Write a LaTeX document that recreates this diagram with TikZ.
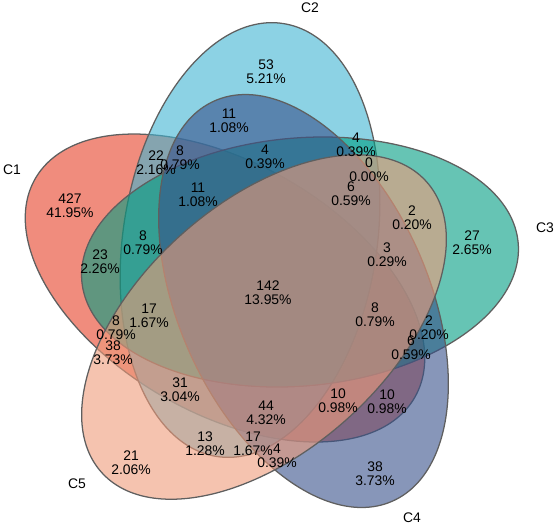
\documentclass[tikz,border=0pt]{standalone}
\usepackage{fontspec}
\setmainfont{Liberation Sans}
\usepackage{xcolor}
\usepackage{tikz}
\usetikzlibrary{positioning}

\definecolor{mauC1}{RGB}{230,63,38}
\definecolor{mauC2}{RGB}{63,180,210}
\definecolor{mauC3}{RGB}{0,157,130}
\definecolor{mauC4}{RGB}{55,80,138}
\definecolor{mauC5}{RGB}{238,155,122}
\definecolor{vien}{RGB}{95,95,95}

\begin{document}
\begin{tikzpicture}[x=0.25mm, y=-0.25mm,
    tap/.style={draw=vien, line width=0.9pt, fill opacity=0.6},
    so/.style={align=center, inner sep=0pt, font=\fontsize{9.9}{10}\selectfont},
    ten/.style={inner sep=0pt, font=\fontsize{9.9}{10}\selectfont}]
    \useasboundingbox (0,0) rectangle (558,528);

    % 1. Năm elip C1, C2, C3, C4, C5 (tâm, bán trục, góc quay)
    \filldraw[tap, fill=mauC1, rotate around={150:(225,288)}] (225,288) ellipse (219 and 125);
    \filldraw[tap, fill=mauC2, rotate around={81.3:(250,240)}] (250,240) ellipse (219 and 127);
    \filldraw[tap, fill=mauC3, rotate around={5:(300,262)}] (300,262) ellipse (219 and 124);
    \filldraw[tap, fill=mauC4, rotate around={114:(303.5,301)}] (303.5,301) ellipse (219 and 125);
    \filldraw[tap, fill=mauC5, rotate around={41.8:(264,327)}] (264,327) ellipse (218 and 124);

    % 2. Tên các tập hợp
    \node[ten] (tC1) at (12,170) {C1};
    \node[ten] (tC2) at (310,8) {C2};
    \node[ten] (tC3) at (545,228) {C3};
    \node[ten] (tC4) at (412,518) {C4};
    \node[ten] (tC5) at (77,484) {C5};

    % 3. Số phần tử và phần trăm của từng miền
    % Miền chỉ thuộc một tập
    \node[so] (r01) at (70,206) {427\\41.95\%};
    \node[so] (r02) at (266,72) {53\\5.21\%};
    \node[so] (r03) at (472,243) {27\\2.65\%};
    \node[so] (r04) at (375,474) {38\\3.73\%};
    \node[so] (r05) at (131,463) {21\\2.06\%};
    % Miền giữa
    \node[so] (r06) at (268,293) {142\\13.95\%};
    % Phía trên
    \node[so] (r07) at (229,121) {11\\1.08\%};
    \node[so] (r08) at (156,163) {22\\2.16\%};
    \node[so] (r09) at (180,158) {8\\0.79\%};
    \node[so] (r10) at (265,157) {4\\0.39\%};
    \node[so] (r11) at (198,195) {11\\1.08\%};
    \node[so] (r12) at (356,145) {4\\0.39\%};
    \node[so] (r13) at (369,170) {0\\0.00\%};
    \node[so] (r14) at (351,194) {6\\0.59\%};
    % Phía trái
    \node[so] (r15) at (143,243) {8\\0.79\%};
    \node[so] (r16) at (100,262) {23\\2.26\%};
    \node[so] (r17) at (149,316) {17\\1.67\%};
    \node[so] (r18) at (116,328) {8\\0.79\%};
    \node[so] (r19) at (113,353) {38\\3.73\%};
    \node[so] (r20) at (180,390) {31\\3.04\%};
    % Phía phải
    \node[so] (r21) at (412,218) {2\\0.20\%};
    \node[so] (r22) at (387,255) {3\\0.29\%};
    \node[so] (r23) at (375,315) {8\\0.79\%};
    \node[so] (r24) at (429,328) {2\\0.20\%};
    \node[so] (r25) at (411,348) {6\\0.59\%};
    % Phía dưới
    \node[so] (r26) at (266,413) {44\\4.32\%};
    \node[so] (r27) at (338,401) {10\\0.98\%};
    \node[so] (r28) at (387,402) {10\\0.98\%};
    \node[so] (r29) at (205,444) {13\\1.28\%};
    \node[so] (r30) at (253,444) {17\\1.67\%};
    \node[so] (r31) at (277,456) {4\\0.39\%};

\end{tikzpicture}
\end{document}
